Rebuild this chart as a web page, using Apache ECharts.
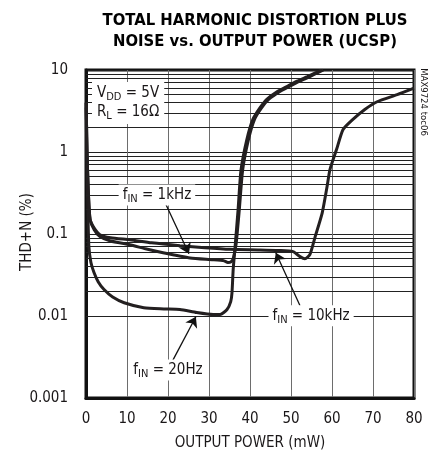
<!DOCTYPE html>
<html>
<head>
<meta charset="utf-8">
<script src="https://cdn.jsdelivr.net/npm/echarts@6/dist/echarts.min.js"></script>
<style>html,body{margin:0;padding:0;background:#fff;}#c{width:437px;height:458px;}</style>
</head>
<body>
<div id="c"></div>
<script>
// ---- data ----
const xTicks = [0, 10, 20, 30, 40, 50, 60, 70, 80];
const yTickLabels = ['0.001', '0.01', '0.1', '1', '10'];

const power20Hz = [0.05, 0.2, 0.45, 0.7, 1.2, 1.95, 3, 4.4, 6.5, 9.3, 14.1, 19, 22.9, 27, 31, 32.7, 34.4, 35.3, 35.6, 35.9, 36.3, 37.1, 37.8, 39.2, 40.7, 42.5, 44.1, 46.5, 49, 51.5, 54, 57.5];
const thd20Hz   = [3.5, 0.8, 0.2, 0.07, 0.045, 0.034, 0.026, 0.021, 0.017, 0.0145, 0.0126, 0.0122, 0.012, 0.011, 0.0104, 0.0104, 0.012, 0.015, 0.019, 0.037, 0.064, 0.2, 0.6, 1.4, 2.5, 3.5, 4.4, 5.4, 6.3, 7.3, 8.3, 10];

const power1kHz = [0.05, 0.25, 0.6, 1.0, 2.0, 3.4, 6, 10.7, 14.5, 18.8, 25.4, 31, 33.7, 34.6, 35.4, 35.9, 36.6, 37.4, 38.2, 39.6, 41.1, 42.9, 44.6, 47.1, 49.6, 52.1, 54.6, 57.9];
const thd1kHz   = [4, 1.0, 0.3, 0.15, 0.113, 0.093, 0.082, 0.074, 0.066, 0.059, 0.051, 0.0485, 0.047, 0.045, 0.046, 0.05, 0.075, 0.2, 0.6, 1.4, 2.5, 3.5, 4.4, 5.4, 6.3, 7.3, 8.3, 10];

const power10kHz = [0.05, 0.25, 0.6, 1.0, 2.0, 3.4, 6, 10.7, 16, 22.9, 29, 35.1, 42.4, 47, 50.5, 52.2, 53.4, 54.6, 55.9, 57.6, 58.8, 59.5, 61.1, 62.7, 65.1, 68, 71, 75.9, 80];
const thd10kHz   = [4, 1.0, 0.3, 0.15, 0.118, 0.098, 0.09, 0.085, 0.078, 0.072, 0.068, 0.065, 0.064, 0.063, 0.061, 0.053, 0.05, 0.056, 0.093, 0.18, 0.38, 0.61, 1.07, 1.88, 2.5, 3.3, 4.1, 5.0, 6.0];

// ---- helpers ----
const FF = "'Liberation Sans Narrow','Arial Narrow','DejaVu Sans Condensed',sans-serif";
const INK = '#1a1718';
const pairs = (xs, ys) => xs.map((x, i) => [x, ys[i]]);
const minorY = [];
[0.001, 0.01, 0.1, 1].forEach(d => { for (let k = 2; k <= 9; k++) minorY.push(+(d * k).toPrecision(2)); });

const rich = {
  a: { fontFamily: FF, fontSize: 15, color: INK, lineHeight: 19 },
  s: { fontFamily: FF, fontSize: 11, color: INK, lineHeight: 19, verticalAlign: 'bottom' }
};

const curve = (name, xs, ys) => ({
  name, type: 'line', data: pairs(xs, ys), showSymbol: false, symbol: 'none',
  smooth: 0.2, z: 3, lineStyle: { color: '#231f20', width: 3 }, animation: false
});

const chart = echarts.init(document.getElementById('c'), null, { renderer: 'canvas' });
chart.setOption({
  animation: false,
  backgroundColor: '#fff',
  title: {
    text: 'TOTAL HARMONIC DISTORTION PLUS\nNOISE vs. OUTPUT POWER (UCSP)',
    left: 250, top: 5, textAlign: 'center',
    textStyle: { fontFamily: FF, fontSize: 16.5, fontWeight: 'bold', color: '#000', lineHeight: 21 }
  },
  grid: { left: 86, right: 23, top: 70, bottom: 60, show: true, borderColor: '#111', borderWidth: 3, backgroundColor: 'transparent' },
  xAxis: {
    type: 'value', min: 0, max: 80, interval: 10,
    name: 'OUTPUT POWER (mW)', nameLocation: 'middle', nameGap: 38,
    nameTextStyle: { fontFamily: FF, fontSize: 15, color: INK },
    axisLine: { show: true, lineStyle: { color: '#111', width: 3 } },
    axisTick: { show: false },
    axisLabel: { fontFamily: FF, fontSize: 15, color: INK, margin: 14, formatter: (v) => String(v) },
    splitLine: { show: true, lineStyle: { color: '#6d6d6d', width: 1 } }
  },
  yAxis: {
    type: 'log', logBase: 10, min: 0.001, max: 10,
    axisLine: { show: true, lineStyle: { color: '#111', width: 3 } },
    axisTick: { show: false },
    axisLabel: { fontFamily: FF, fontSize: 15, color: INK, margin: 18, formatter: (v, i) => yTickLabels[i] },
    splitLine: { show: true, lineStyle: { color: '#222', width: 1 } }
  },
  graphic: [
    { type: 'text', x: 20, y: 232, rotation: Math.PI / 2, style: { text: 'THD+N (%)', fontFamily: FF, fontSize: 15, fill: INK, textAlign: 'center', textVerticalAlign: 'top' } },
    { type: 'text', x: 423, y: 102, rotation: -Math.PI / 2, style: { text: 'MAX9724 toc06', fontFamily: FF, fontSize: 9.5, fill: INK, textAlign: 'center', textVerticalAlign: 'middle' } }
  ],
  series: [
    {
      name: 'minorGrid', type: 'line', data: [], z: 1, silent: true,
      markLine: {
        silent: true, symbol: ['none', 'none'], label: { show: false },
        lineStyle: { color: '#222', width: 1, type: 'solid' },
        data: minorY.map(v => ({ yAxis: v }))
      }
    },
    curve('20Hz', power20Hz, thd20Hz),
    curve('1kHz', power1kHz, thd1kHz),
    curve('10kHz', power10kHz, thd10kHz),
    {
      name: 'arrows', type: 'line', data: [], z: 4, silent: true,
      markLine: {
        silent: true, symbol: ['none', 'arrow'], symbolSize: 10, label: { show: false },
        itemStyle: { color: '#111' },
        lineStyle: { color: '#111', width: 1.3, type: 'solid', opacity: 1 },
        data: [
          [{ coord: [19.3, 0.241] }, { coord: [25.1, 0.0575] }],
          [{ coord: [52.2, 0.0133] }, { coord: [46.3, 0.059] }],
          [{ coord: [21.2, 0.0029] }, { coord: [26.8, 0.0098] }]
        ]
      }
    },
    {
      name: 'notes', type: 'scatter', symbolSize: 0, z: 5, silent: true,
      itemStyle: { color: INK, opacity: 1 },
      label: { show: true, position: 'inside', color: INK, textBorderWidth: 0, backgroundColor: '#fff', padding: [1, 4, 1, 4], rich },
      data: [
        { value: [1.46, 3.95], label: { position: 'right', distance: 0, padding: [2, 5, 2, 5], formatter: '{a|V}{s|DD}{a| = 5V}\n{a|R}{s|L}{a| = 16Ω}' } },
        { value: [17.3, 0.30], label: { formatter: '{a|f}{s|IN}{a| = 1kHz}' } },
        { value: [54.9, 0.0101], label: { formatter: '{a|f}{s|IN}{a| = 10kHz}' } },
        { value: [20.0, 0.0022], label: { formatter: '{a|f}{s|IN}{a| = 20Hz}' } }
      ]
    }
  ]
});
</script>
</body>
</html>
